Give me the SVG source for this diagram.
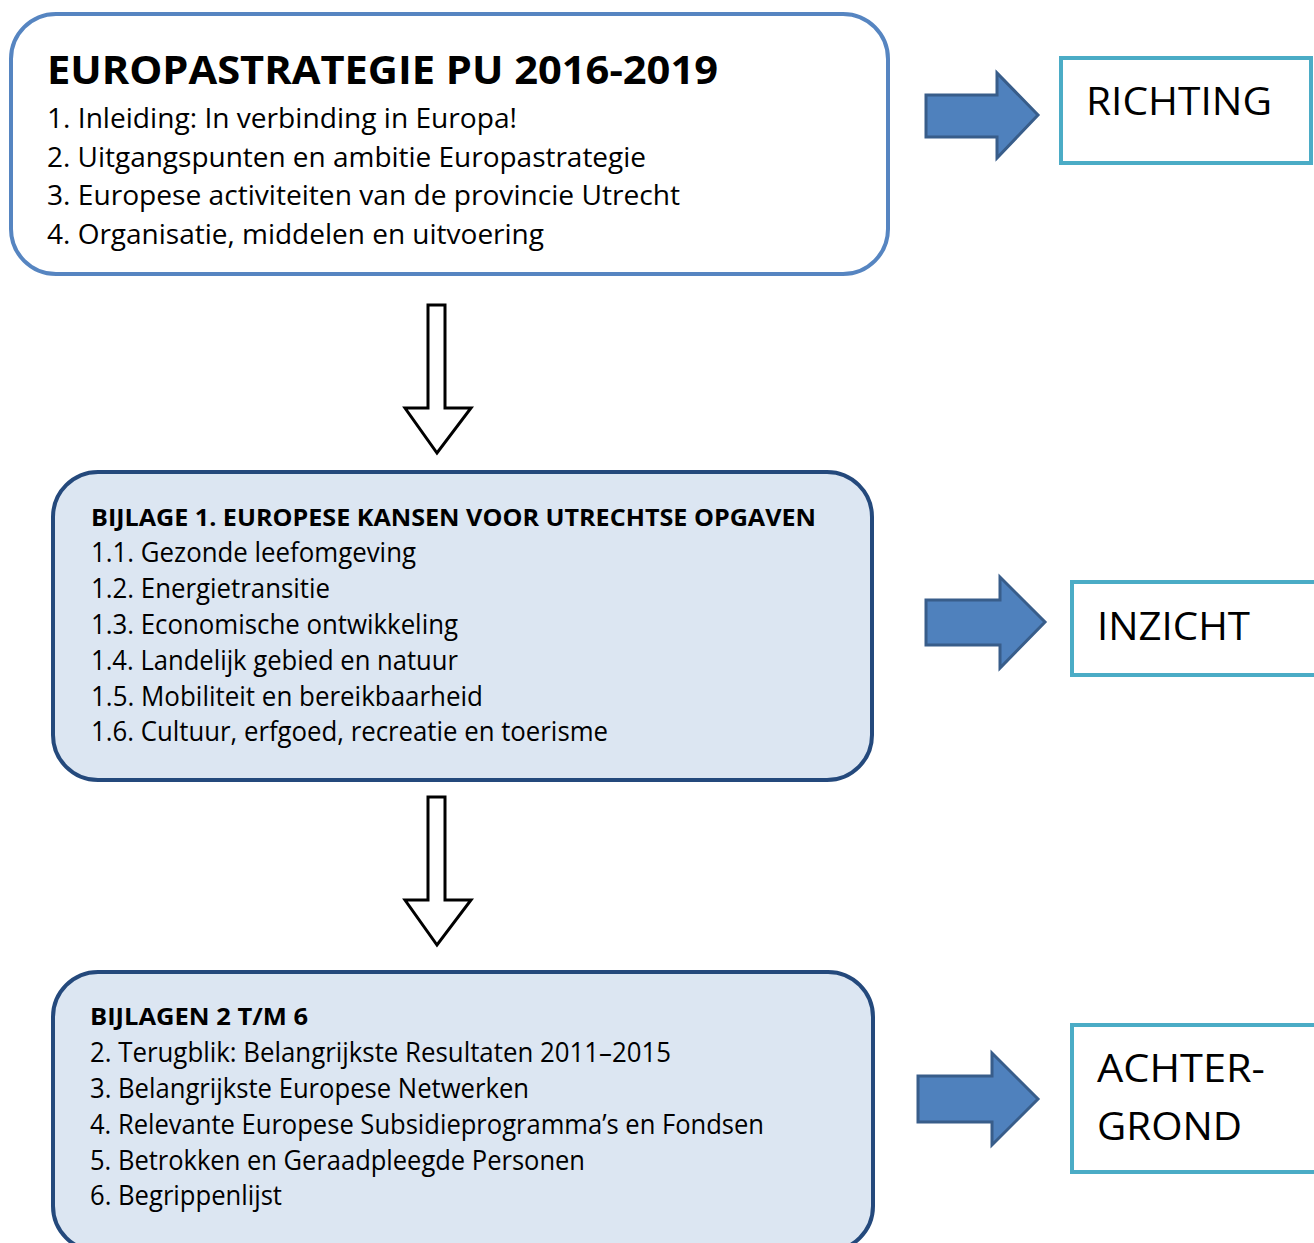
<svg xmlns="http://www.w3.org/2000/svg" width="1314" height="1243" viewBox="0 0 1314 1243">
<style>
.t{font-family:"Open Sans","Noto Sans","Liberation Sans",sans-serif;fill:#000}
.b{font-weight:bold}
.main{fill:#fff;stroke:#5685C1;stroke-width:4}
.sub{fill:#DCE6F2;stroke:#24497C;stroke-width:4}
.side{fill:#fff;stroke:#4BACC6;stroke-width:4}
.blue{fill:#4F81BD;stroke:#385D8A;stroke-width:3;stroke-linejoin:miter}
.down{fill:#fff;stroke:#000;stroke-width:3;stroke-linejoin:miter}
</style>
<rect width="1314" height="1243" fill="#fff"/>
<g id="node-europastrategie">
<rect class="main" x="11" y="14" width="877" height="260" rx="45"/>
<text class="t b" x="47" y="84" font-size="39" textLength="671" lengthAdjust="spacingAndGlyphs">EUROPASTRATEGIE PU 2016-2019</text>
<text class="t" x="47" y="128" font-size="28" textLength="470" lengthAdjust="spacingAndGlyphs">1. Inleiding: In verbinding in Europa!</text>
<text class="t" x="47" y="167" font-size="28" textLength="599" lengthAdjust="spacingAndGlyphs">2. Uitgangspunten en ambitie Europastrategie</text>
<text class="t" x="47" y="205" font-size="28" textLength="633" lengthAdjust="spacingAndGlyphs">3. Europese activiteiten van de provincie Utrecht</text>
<text class="t" x="47" y="244" font-size="28" textLength="497" lengthAdjust="spacingAndGlyphs">4. Organisatie, middelen en uitvoering</text>
</g>
<g id="node-bijlage1">
<rect class="sub" x="53" y="472" width="819" height="308" rx="45"/>
<text class="t b" x="91" y="526" font-size="23.5" textLength="725" lengthAdjust="spacingAndGlyphs">BIJLAGE 1. EUROPESE KANSEN VOOR UTRECHTSE OPGAVEN</text>
<text class="t" x="91" y="562" font-size="27" textLength="325" lengthAdjust="spacingAndGlyphs">1.1. Gezonde leefomgeving</text>
<text class="t" x="91" y="598" font-size="27" textLength="239" lengthAdjust="spacingAndGlyphs">1.2. Energietransitie</text>
<text class="t" x="91" y="634" font-size="27" textLength="367" lengthAdjust="spacingAndGlyphs">1.3. Economische ontwikkeling</text>
<text class="t" x="91" y="670" font-size="27" textLength="367" lengthAdjust="spacingAndGlyphs">1.4. Landelijk gebied en natuur</text>
<text class="t" x="91" y="706" font-size="27" textLength="392" lengthAdjust="spacingAndGlyphs">1.5. Mobiliteit en bereikbaarheid</text>
<text class="t" x="91" y="741" font-size="27" textLength="517" lengthAdjust="spacingAndGlyphs">1.6. Cultuur, erfgoed, recreatie en toerisme</text>
</g>
<g id="node-bijlagen2-6">
<rect class="sub" x="53" y="972" width="820" height="279" rx="45"/>
<text class="t b" x="90" y="1025" font-size="23.5" textLength="218" lengthAdjust="spacingAndGlyphs">BIJLAGEN 2 T/M 6</text>
<text class="t" x="90" y="1062" font-size="27" textLength="581" lengthAdjust="spacingAndGlyphs">2. Terugblik: Belangrijkste Resultaten 2011–2015</text>
<text class="t" x="90" y="1098" font-size="27" textLength="439" lengthAdjust="spacingAndGlyphs">3. Belangrijkste Europese Netwerken</text>
<text class="t" x="90" y="1134" font-size="27" textLength="674" lengthAdjust="spacingAndGlyphs">4. Relevante Europese Subsidieprogramma’s en Fondsen</text>
<text class="t" x="90" y="1170" font-size="27" textLength="495" lengthAdjust="spacingAndGlyphs">5. Betrokken en Geraadpleegde Personen</text>
<text class="t" x="90" y="1205" font-size="27" textLength="192" lengthAdjust="spacingAndGlyphs">6. Begrippenlijst</text>
</g>
<g id="node-richting">
<rect class="side" x="1061" y="58" width="250" height="105"/>
<text class="t" x="1086" y="115" font-size="39" textLength="186" lengthAdjust="spacingAndGlyphs">RICHTING</text>
</g>
<g id="node-inzicht">
<rect class="side" x="1072" y="582" width="260" height="93"/>
<text class="t" x="1097" y="640" font-size="39" textLength="153" lengthAdjust="spacingAndGlyphs">INZICHT</text>
</g>
<g id="node-achtergrond">
<rect class="side" x="1072" y="1025" width="260" height="147"/>
<text class="t" x="1097" y="1082" font-size="39" textLength="168" lengthAdjust="spacingAndGlyphs">ACHTER-</text>
<text class="t" x="1097" y="1140" font-size="39" textLength="145" lengthAdjust="spacingAndGlyphs">GROND</text>
</g>
<g id="connectors">
<polygon class="blue" points="926,95 997,95 997,73 1038,115 997,158 997,137 926,137"/>
<polygon class="blue" points="926,600 1000,600 1000,577 1045,622 1000,668 1000,645 926,645"/>
<polygon class="blue" points="918,1076 992,1076 992,1053 1038,1099 992,1145 992,1122 918,1122"/>
<polygon class="down" points="428,305 445,305 445,408 471,408 437,453 405,408 428,408"/>
<polygon class="down" points="428,797 445,797 445,900 471,900 437,945 405,900 428,900"/>
</g>
</svg>
